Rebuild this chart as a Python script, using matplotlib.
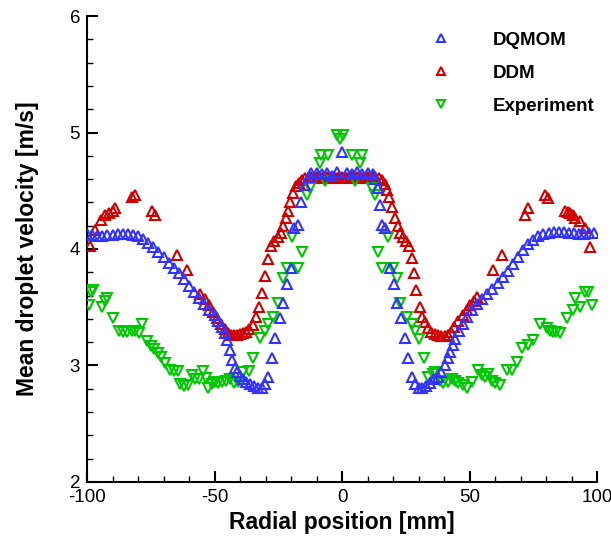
import numpy as np
import matplotlib.pyplot as plt
from matplotlib.ticker import MultipleLocator
from matplotlib import rcParams
rcParams['font.family'] = ['Liberation Sans', 'DejaVu Sans']
rcParams['axes.unicode_minus'] = False

# colours
blue = '#3333ff'
red = '#d00000'
green = '#00c800'

# DQMOM prediction
dqmom_r = [-100, -98, -96, -94, -92, -90, -88, -86, -84, -82, -80, -78, -76, -74,
           -72, -70, -68, -66, -64, -62, -60, -58, -56, -54, -52, -50, -48.5, -47,
           -46, -45, -44, -43, -42, -41, -40, -39, -37.5, -36, -34.5, -33, -31.5,
           -30.2, -29, -27.5, -26.2, -24.5, -23, -21.5, -20, -18.8, -17.4, -16,
           -14.5, -13, -12, -10, -8, -6, -4, -2, 0,
           2, 4, 6, 8, 10, 12, 13, 14, 15, 15.8, 17, 18.8, 20.3, 21.6, 23, 24.7,
           26, 27.5, 28.8, 30, 31.5, 33, 34.5, 36, 37.5, 39, 40.5, 41.5, 42.5,
           43.5, 44.5, 46, 47.5, 49, 51, 53, 55, 57, 59, 61, 63, 65, 67, 69, 71,
           73, 75, 77, 79, 81, 83, 85, 87, 89, 91, 93, 95, 97, 99]
dqmom_v = [4.13, 4.12, 4.11, 4.11, 4.12, 4.12, 4.13, 4.13, 4.13, 4.12, 4.11, 4.09,
           4.05, 4.02, 3.97, 3.93, 3.88, 3.84, 3.79, 3.74, 3.68, 3.63, 3.58, 3.53,
           3.48, 3.43, 3.38, 3.33, 3.28, 3.22, 3.13, 3.05, 2.98, 2.94, 2.91, 2.88,
           2.86, 2.84, 2.82, 2.81, 2.81, 2.84, 2.90, 3.06, 3.24, 3.41, 3.54, 3.70,
           3.84, 4.18, 4.21, 4.40, 4.55, 4.62, 4.65, 4.65, 4.64, 4.65, 4.63, 4.66,
           4.83,
           4.65, 4.64, 4.66, 4.64, 4.65, 4.64, 4.60, 4.52, 4.38, 4.21, 4.18, 3.84,
           3.70, 3.54, 3.41, 3.24, 3.06, 2.90, 2.84, 2.81, 2.81, 2.82, 2.85, 2.88,
           2.90, 2.94, 3.00, 3.06, 3.12, 3.18, 3.23, 3.30, 3.36, 3.42, 3.48, 3.53,
           3.57, 3.61, 3.66, 3.71, 3.76, 3.81, 3.87, 3.93, 3.99, 4.04, 4.08, 4.11,
           4.13, 4.14, 4.15, 4.15, 4.15, 4.14, 4.14, 4.13, 4.13, 4.14, 4.14]

# DDM prediction
ddm_r = [-98.8, -96.9, -94.5, -93, -91.5, -90, -89, -82.4, -81, -74.5, -73.3, -64.7,
         -60.8, -55.7, -53.7, -52.2, -50.6, -49, -47.5, -46, -44.7, -43.5, -42.3,
         -41, -40, -38.8, -37.5, -36.3, -35, -33.8, -32.5, -31.3, -30.3, -29,
         -27.8, -26.5, -25.2, -24, -23, -22, -21.2, -20.3, -19.3, -18.2, -17,
         -15.7, -14.5, -13, -12, -11, -10, -9, -8, -7, -6, -5, -4, -3, -2, -1, 0,
         1, 2, 3, 4, 5, 6, 7, 8, 9, 10, 11, 12, 13,
         14.5, 15.7, 17, 17.6, 18.5, 19.6, 20.8, 21.8, 22.7, 24, 25.2, 26.3, 27.3,
         28.2, 29.2, 30.4, 31.4, 32.5, 33.7, 35, 36.3, 37.6, 39, 40.4, 41.6, 42.6,
         44, 45.5, 47.5, 49, 50.3, 51.7, 53, 59.2, 62.7, 71.8, 73, 79.6, 80.8,
         87.5, 88.5, 89.4, 90.5, 91.4, 93.3, 95.3, 97.3]
ddm_v = [4.03, 4.16, 4.25, 4.29, 4.31, 4.33, 4.35, 4.45, 4.46, 4.33, 4.29, 3.95,
         3.82, 3.61, 3.57, 3.52, 3.46, 3.41, 3.36, 3.31, 3.28, 3.26, 3.26, 3.26,
         3.27, 3.28, 3.29, 3.31, 3.35, 3.42, 3.50, 3.62, 3.77, 3.91, 4.03, 4.07,
         4.10, 4.14, 4.20, 4.27, 4.33, 4.40, 4.48, 4.54, 4.57, 4.59, 4.61, 4.62,
         4.62, 4.61, 4.62, 4.62, 4.61, 4.62, 4.62, 4.61, 4.62, 4.62, 4.61, 4.62,
         4.62,
         4.62, 4.61, 4.62, 4.62, 4.61, 4.62, 4.62, 4.61, 4.62, 4.62, 4.61, 4.62,
         4.62,
         4.61, 4.59, 4.56, 4.51, 4.45, 4.36, 4.27, 4.20, 4.14, 4.10, 4.07, 4.03,
         3.92, 3.79, 3.65, 3.50, 3.42, 3.37, 3.32, 3.29, 3.27, 3.26, 3.25, 3.25,
         3.26, 3.29, 3.33, 3.38, 3.43, 3.48, 3.52, 3.55, 3.59, 3.82, 3.95, 4.29,
         4.35, 4.46, 4.44, 4.33, 4.32, 4.31, 4.29, 4.27, 4.24, 4.18, 4.02]

# measurements
exp_r = [-99.2, -98.5, -97.5, -94.3, -93, -92.2, -89.8, -87.5, -86, -84.3, -82.5,
         -81, -79.8, -78.4, -76.5, -75, -73.8, -72.2, -71, -69.4, -67.5, -65.8,
         -64.5, -63.5, -61.8, -60.5, -58.8, -57.5, -56.2, -54.5, -53.5, -52.5,
         -51, -49.8, -48.5, -47, -45.5, -44, -42.3, -40.7, -38.8, -36.5, -34.9,
         -32.2, -30.2, -29, -27, -25, -23, -21.6, -19.6, -17.3, -15.7, -13.7,
         -12.5, -8.6, -8.3, -6.7, -5.5, -2, -0.8, 0.4,
         4, 5.1, 7, 7.8, 11.8, 12.9, 14.1, 15.7, 18, 20, 21.6, 22.7, 25.5, 27.5,
         28.6, 30.2, 32.2, 33.7, 35.5, 36.5, 38.5, 39.6, 41.5, 43, 44.5, 45.5,
         47.5, 49, 51, 53.3, 55, 56, 57.3, 59, 60, 62, 64.7, 66.7, 68.6, 70.6,
         73, 75, 77.6, 80.4, 81.5, 82.7, 84, 85.5, 88.2, 90.6, 91.4, 93.3, 95.3,
         96.5, 98]
exp_v = [3.52, 3.63, 3.65, 3.50, 3.55, 3.58, 3.41, 3.30, 3.29, 3.29, 3.30, 3.30,
         3.28, 3.36, 3.21, 3.17, 3.14, 3.11, 3.07, 3.02, 2.96, 2.95, 2.95, 2.84,
         2.82, 2.83, 2.92, 2.88, 2.88, 2.95, 2.89, 2.81, 2.84, 2.86, 2.85, 2.86,
         2.87, 2.88, 2.85, 2.86, 2.94, 2.95, 3.06, 3.24, 3.30, 3.36, 3.42, 3.54,
         3.75, 3.84, 4.10, 3.84, 3.97, 4.46, 4.52, 4.74, 4.81, 4.58, 4.81, 4.98,
         4.94, 4.98,
         4.81, 4.58, 4.74, 4.81, 4.52, 4.46, 3.97, 3.84, 4.10, 3.84, 3.75, 3.54,
         3.42, 3.36, 3.30, 3.23, 3.06, 2.90, 2.93, 2.94, 2.87, 2.85, 2.86, 2.88,
         2.87, 2.85, 2.83, 2.81, 2.86, 2.96, 2.92, 2.90, 2.93, 2.87, 2.85, 2.83,
         2.96, 2.96, 3.03, 3.15, 3.18, 3.22, 3.36, 3.32, 3.30, 3.29, 3.29, 3.28,
         3.41, 3.48, 3.58, 3.50, 3.63, 3.63, 3.52]

fig = plt.figure(figsize=(6.11, 5.41), dpi=100)
ax = fig.add_axes([0.1424, 0.1091, 0.8347, 0.8613])

mk = dict(linestyle='none', markersize=7, markerfacecolor='none', markeredgewidth=1.5)
h_ddm, = ax.plot(ddm_r, ddm_v, '^', color=red, label='DDM', zorder=3, **mk)
h_exp, = ax.plot(exp_r, exp_v, 'v', color=green, label='Experiment', zorder=4, **mk)
h_dq, = ax.plot(dqmom_r, dqmom_v, '^', color=blue, label='DQMOM', zorder=5, **mk)

ax.set_xlim(-100, 100)
ax.set_ylim(2, 6)
ax.xaxis.set_major_locator(MultipleLocator(50))
ax.xaxis.set_minor_locator(MultipleLocator(10))
ax.yaxis.set_major_locator(MultipleLocator(1))
ax.yaxis.set_minor_locator(MultipleLocator(0.2))

for s in ['top', 'right']:
    ax.spines[s].set_visible(False)
for s in ['left', 'bottom']:
    ax.spines[s].set_linewidth(1.5)
ax.tick_params(which='both', direction='in', top=False, right=False,
               labelsize=13.5, pad=5)
ax.tick_params(which='major', length=8, width=1.5)
ax.tick_params(which='minor', length=4.5, width=1)

ax.set_xlabel('Radial position [mm]', fontsize=16.5, fontweight='bold', labelpad=4)
ax.set_ylabel('Mean droplet velocity [m/s]', fontsize=16.5, fontweight='bold', labelpad=22)

leg = ax.legend(handles=[h_dq, h_ddm, h_exp], loc='upper left',
                bbox_to_anchor=(0.675, 0.967), frameon=False, borderpad=0,
                borderaxespad=0, handlelength=1.0, handletextpad=2.3,
                labelspacing=0.85, markerscale=0.75,
                prop={'size': 13.5, 'weight': 'bold'})

plt.savefig('out.png', dpi=100)
